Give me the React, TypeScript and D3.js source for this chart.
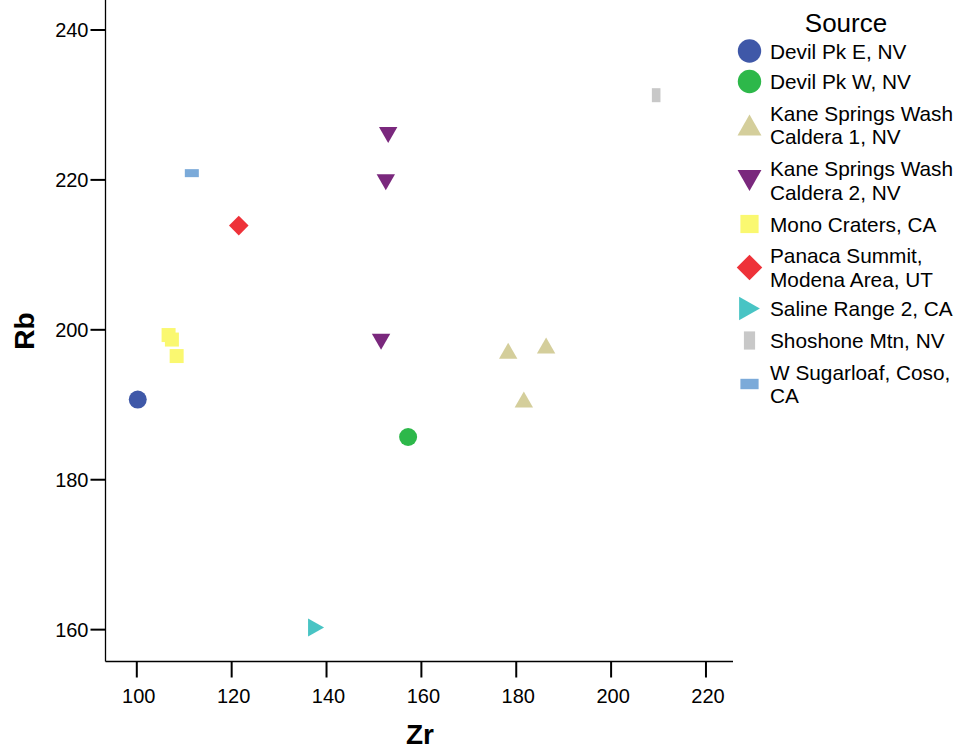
import React from "react";
import * as d3 from "d3";

const W = 963;
const H = 753;

// series: [Zr, Rb] per source
const devilPkE = [[100.2, 190.7]];
const devilPkW = [[157.2, 185.7]];
const kane1 = [[178.3, 197.2], [186.3, 197.9], [181.6, 190.7]];
const kane2 = [[153.0, 226.0], [152.5, 219.7], [151.5, 198.4]];
const mono = [[106.7, 199.3], [107.4, 198.7], [108.4, 196.5]];
const panaca = [[121.5, 213.9]];
const saline = [[137.8, 160.3]];
const shoshone = [[209.5, 231.3]];
const sugarloaf = [[111.6, 220.9]];

const xTicks = [100, 120, 140, 160, 180, 200, 220];
const yTicks = [160, 180, 200, 220, 240];

type Shape = "circle" | "up" | "down" | "square" | "diamond" | "right" | "vbar" | "hbar";

const sources: { name: string[]; color: string; shape: Shape; data: number[][] }[] = [
  { name: ["Devil Pk E, NV"], color: "#3F58A8", shape: "circle", data: devilPkE },
  { name: ["Devil Pk W, NV"], color: "#2DB84A", shape: "circle", data: devilPkW },
  { name: ["Kane Springs Wash", "Caldera 1, NV"], color: "#D4CE9B", shape: "up", data: kane1 },
  { name: ["Kane Springs Wash", "Caldera 2, NV"], color: "#7A287D", shape: "down", data: kane2 },
  { name: ["Mono Craters, CA"], color: "#FAF870", shape: "square", data: mono },
  { name: ["Panaca Summit,", "Modena Area, UT"], color: "#EE3239", shape: "diamond", data: panaca },
  { name: ["Saline Range 2, CA"], color: "#48C4C4", shape: "right", data: saline },
  { name: ["Shoshone Mtn, NV"], color: "#C8C8C8", shape: "vbar", data: shoshone },
  { name: ["W Sugarloaf, Coso,", "CA"], color: "#7BAAD9", shape: "hbar", data: sugarloaf },
];

function Marker({ shape, color, x, y, k = 1 }: { shape: Shape; color: string; x: number; y: number; k?: number }) {
  switch (shape) {
    case "circle":
      return <circle cx={x} cy={y} r={9 * k} fill={color} />;
    case "square":
      return <rect x={x - 7 * k} y={y - 7 * k} width={14 * k} height={14 * k} fill={color} />;
    case "vbar":
      return <rect x={x - 4.3 * k} y={y - 7 * k} width={8.6 * k} height={14 * k} fill={color} />;
    case "hbar":
      return <rect x={x - 7 * k} y={y - 4 * k} width={14 * k} height={8 * k} fill={color} />;
    case "diamond":
      return <path d={`M${x},${y - 9.8 * k}L${x + 9.8 * k},${y}L${x},${y + 9.8 * k}L${x - 9.8 * k},${y}Z`} fill={color} />;
    case "up":
      return <path d={`M${x},${y - 8 * k}L${x + 9.2 * k},${y + 8 * k}L${x - 9.2 * k},${y + 8 * k}Z`} fill={color} />;
    case "down":
      return <path d={`M${x - 9.2 * k},${y - 8 * k}L${x + 9.2 * k},${y - 8 * k}L${x},${y + 8 * k}Z`} fill={color} />;
    case "right":
      return <path d={`M${x - 8 * k},${y - 9 * k}L${x + 8 * k},${y}L${x - 8 * k},${y + 9 * k}Z`} fill={color} />;
  }
}

export default function App() {
  const left = 105.5;
  const right = 733;
  const top = 0;
  const bottom = 661.5;
  const x = d3.scaleLinear().domain([93.4, 225.7]).range([left, right]);
  const y = d3.scaleLinear().domain([155.75, 244]).range([bottom, top]);
  const font = "Liberation Sans, Arial, sans-serif";

  const legendRows = [51, 81.5, 125, 180.5, 224, 267.5, 308.5, 340.5, 384];

  return (
    <svg width={W} height={H} style={{ position: "absolute", left: 0, top: 0 }} fontFamily={font}>
      <rect width={W} height={H} fill="#fff" />
      <line x1={left} x2={left} y1={top} y2={bottom} stroke="#000" strokeWidth={1.3} />
      <line x1={left} x2={right} y1={bottom} y2={bottom} stroke="#000" strokeWidth={1.3} />
      {yTicks.map((t) => (
        <g key={t}>
          <line x1={left - 15} x2={left} y1={y(t)} y2={y(t)} stroke="#000" strokeWidth={2} />
          <text x={left - 17} y={y(t) + 7.5} textAnchor="end" fontSize={20}>{t}</text>
        </g>
      ))}
      {xTicks.map((t) => (
        <g key={t}>
          <line x1={x(t)} x2={x(t)} y1={bottom} y2={bottom + 16} stroke="#000" strokeWidth={2} />
          <text x={x(t) + 2} y={703} textAnchor="middle" fontSize={20}>{t}</text>
        </g>
      ))}
      <text x={420} y={744} textAnchor="middle" fontSize={28} fontWeight="bold">Zr</text>
      <text transform={`translate(34,331) rotate(-90)`} textAnchor="middle" fontSize={28} fontWeight="bold">Rb</text>

      {sources.map((s) =>
        s.data.map((d, i) => <Marker key={s.name[0] + i} shape={s.shape} color={s.color} x={x(d[0])} y={y(d[1])} />)
      )}

      <text x={846} y={32} textAnchor="middle" fontSize={26}>Source</text>
      {sources.map((s, i) => {
        const cy = legendRows[i];
        const two = s.name.length > 1;
        return (
          <g key={s.name[0]}>
            <Marker shape={s.shape} color={s.color} x={749.5} y={cy} k={1.3} />
            {s.name.map((line, j) => (
              <text key={j} x={770} y={cy + 7.5 + (two ? (j === 0 ? -11.7 : 11.7) : 0)} fontSize={20.8}>{line}</text>
            ))}
          </g>
        );
      })}
    </svg>
  );
}
